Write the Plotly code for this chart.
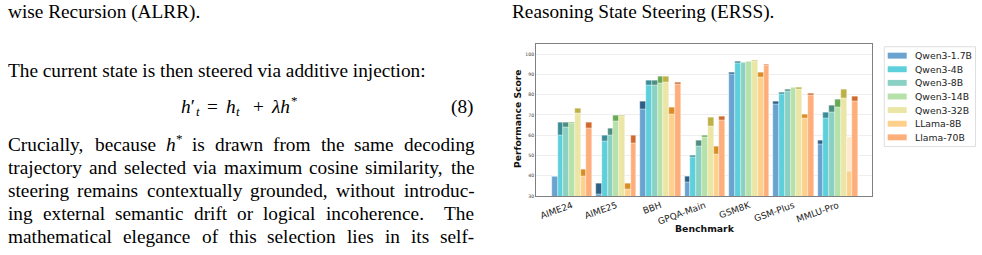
import numpy as np
import plotly.graph_objects as go

# ---------------- data ----------------
benchmarks = ["AIME24", "AIME25", "BBH", "GPQA-Main", "GSM8K", "GSM-Plus", "MMLU-Pro"]
models = ["Qwen3-1.7B", "Qwen3-4B", "Qwen3-8B", "Qwen3-14B", "Qwen3-32B", "LLama-8B", "Llama-70B"]

baseline = {
    "Qwen3-1.7B": [40.0, 31.0, 73.0, 37.0, 90.2, 75.5, 55.8],
    "Qwen3-4B":   [60.0, 56.8, 84.9, 49.2, 95.6, 80.2, 68.2],
    "Qwen3-8B":   [63.8, 60.0, 84.7, 54.8, 96.1, 81.5, 71.4],
    "Qwen3-14B":  [65.7, 66.9, 85.7, 59.0, 96.4, 83.6, 73.7],
    "Qwen3-32B":  [71.0, 69.2, 86.0, 64.6, 96.6, 82.8, 78.1],
    "LLama-8B":   [40.0, 33.2, 70.6, 50.8, 88.6, 68.2, 59.2],
    "Llama-70B":  [63.3, 56.0, 85.2, 67.2, 94.5, 79.9, 76.9],
}
erss = {
    "Qwen3-1.7B": [40.0, 36.5, 76.9, 39.9, 91.2, 76.6, 57.3],
    "Qwen3-4B":   [66.5, 60.0, 87.2, 50.1, 96.3, 81.2, 71.4],
    "Qwen3-8B":   [66.5, 63.3, 87.3, 57.3, 96.1, 82.5, 75.0],
    "Qwen3-14B":  [66.5, 70.0, 89.0, 59.9, 96.4, 83.6, 77.6],
    "Qwen3-32B":  [73.4, 70.0, 89.0, 68.7, 96.9, 83.6, 82.6],
    "LLama-8B":   [43.3, 36.5, 74.0, 54.5, 90.9, 70.6, 42.2],
    "Llama-70B":  [66.5, 60.0, 86.0, 69.6, 95.1, 80.8, 79.2],
}
y_ticks = [30, 40, 50, 60, 70, 80, 90, 100]

# ---------------- styles ----------------
light = ["#6aa3cf", "#5dd0dc", "#8bd1c3", "#b6e1a8", "#ebe6a6", "#fdd08b", "#fdae7b"]
dark = ["#2f5f84", "#3a8c96", "#4e8e80", "#67a955", "#bdb145", "#d98d22", "#cf692e"]
faded = ["#cfe0ef", "#cdeff2", "#dcf0eb", "#e7f4e2", "#f8f6e2", "#fee9cd", "#fee4d2"]

W, H = 982, 255
def px(x):
    return x / W
def py(y):
    return 1 - y / H

fig = go.Figure()
bw = 0.13
xg = np.arange(len(benchmarks))
for i, m in enumerate(models):
    b = np.array(baseline[m])
    e = np.array(erss[m])
    xs = xg + (i - 3) * bw
    low = np.minimum(b, e)
    gain = np.where(e > b, e - b, 0)
    loss = np.where(b > e, b - e, 0)
    line = dict(color="rgba(255,255,255,0.7)", width=0.5)
    fig.add_trace(go.Bar(x=xs, y=low, width=bw, marker=dict(color=light[i], line=line),
                         name=m, showlegend=False))
    fig.add_trace(go.Bar(x=xs, y=gain, base=b, width=bw, marker=dict(color=dark[i], line=line),
                         showlegend=False))
    fig.add_trace(go.Bar(x=xs, y=loss, base=e, width=bw, marker=dict(color=faded[i], line=line),
                         showlegend=False))

# ---------------- axes ----------------
x0, x1, y0, y1 = 536, 872, 44.7, 198.3
fig.update_layout(
    width=W, height=H, autosize=False,
    margin=dict(l=0, r=0, t=0, b=0),
    paper_bgcolor="white", plot_bgcolor="white",
    barmode="overlay", bargap=0,
    xaxis=dict(domain=[px(x0), px(x1)], range=[-0.81, 6.77],
               tickmode="array", tickvals=list(xg), ticktext=benchmarks,
               tickangle=-20, tickfont=dict(family="DejaVu Sans", size=9, color="#222"),
               showgrid=False, zeroline=False, showline=True, mirror=True,
               linecolor="#7f7f7f", linewidth=1, ticks="", ticklen=0),
    yaxis=dict(domain=[py(y1), py(y0)], range=[30, 104.9],
               tickmode="array", tickvals=y_ticks,
               tickfont=dict(family="DejaVu Sans", size=4.6, color="#333"),
               showgrid=True, gridcolor="#eeeeee", gridwidth=0.6,
               zeroline=False, showline=True, mirror=True,
               linecolor="#7f7f7f", linewidth=1, ticks="", ticklen=0),
    font=dict(family="DejaVu Sans"),
)

ann = []
shapes = []
ann.append(dict(text="<b>Performance Score</b>", x=px(517.5), y=py(120), xref="paper", yref="paper",
                textangle=-90, showarrow=False, font=dict(family="DejaVu Sans", size=9.2, color="#111"),
                xanchor="center", yanchor="middle"))
ann.append(dict(text="<b>Benchmark</b>", x=px(705), y=py(231.7), xref="paper", yref="paper",
                showarrow=False, font=dict(family="DejaVu Sans", size=9.3, color="#111"),
                xanchor="center", yanchor="middle"))

# ---------------- legend (manual) ----------------
shapes.append(dict(type="rect", xref="paper", yref="paper", x0=px(884.3), x1=px(975.5),
                   y0=py(148.3), y1=py(47.3), line=dict(color="#d5d5d5", width=0.8),
                   fillcolor="rgba(255,255,255,0.9)", layer="above"))
row0, dy = 56.3, 13.78
for i, m in enumerate(models):
    yc = row0 + i * dy
    shapes.append(dict(type="rect", xref="paper", yref="paper", x0=px(887.7), x1=px(906.7),
                       y0=py(yc + 3), y1=py(yc - 3), line=dict(width=0),
                       fillcolor=light[i], layer="above"))
    ann.append(dict(text=m, x=px(913.5), y=py(yc), xref="paper", yref="paper", showarrow=False,
                    xanchor="left", yanchor="middle", borderpad=0,
                    font=dict(family="DejaVu Sans", size=9.3, color="#222")))

# ---------------- page text ----------------
TW = {' ': 250, 'a': 444, 'b': 500, 'c': 444, 'd': 500, 'e': 444, 'f': 333, 'g': 500, 'h': 500,
      'i': 278, 'j': 278, 'k': 500, 'l': 278, 'm': 778, 'n': 500, 'o': 500, 'p': 500, 'q': 500,
      'r': 333, 's': 389, 't': 278, 'u': 500, 'v': 500, 'w': 722, 'x': 500, 'y': 500, 'z': 444,
      'A': 722, 'C': 667, 'E': 611, 'L': 611, 'R': 667, 'S': 556, 'T': 611, ',': 250, '.': 250,
      ':': 278, '-': 333, '(': 333, ')': 333, '*': 500}
FS = 19.3
SS = 13.0  # script size
SERIF = "Liberation Serif"

def wwidth(word):
    if word == "h*":
        return FS * 0.85
    return FS * sum(TW.get(c, 500) for c in word) / 1000.0

def text_ann(t, x, y, anchor="left", size=FS):
    return dict(text=t, x=px(x), y=py(y), xref="paper", yref="paper", showarrow=False,
                xanchor=anchor, yanchor="middle", borderpad=0,
                font=dict(family=SERIF, size=size, color="#000"))

ann.append(text_ann("wise Recursion (ALRR).", 7, 12))
ann.append(text_ann("Reasoning State Steering (ERSS).", 511, 12))
ann.append(text_ann("The current state is then steered via additive injection:", 7, 71))

# equation (8): h'_t = h_t + λh*  (pieces laid out by hand)
ey = 108
ann.append(text_ann("<i>h</i>′", 180, ey))
ann.append(text_ann("<i>t</i>", 194.5, ey + 5, size=SS))
ann.append(text_ann("=", 205.5, ey))
ann.append(text_ann("<i>h</i>", 225, ey))
ann.append(text_ann("<i>t</i>", 234.5, ey + 5, size=SS))
ann.append(text_ann("+", 251.5, ey))
ann.append(text_ann("<i>λh</i>", 270, ey))
ann.append(text_ann("*", 289.5, ey - 6, size=SS))
ann.append(text_ann("(8)", 473.5, ey, anchor="right"))

para = [
    "Crucially, because h* is drawn from the same decoding",
    "trajectory and selected via maximum cosine similarity, the",
    "steering remains contextually grounded, without introduc-",
    "ing external semantic drift or logical incoherence.  The",
    "mathematical elegance of this selection lies in its self-",
]
line_y = [146, 169.3, 193, 216.3, 239.5]
left, right = 7, 473.5
for line_txt, yl in zip(para, line_y):
    parts = line_txt.split(" ")
    words, weights = [], []
    for p in parts:
        if p == "":
            weights[-1] += 1.0
            continue
        words.append(p)
        weights.append(1.0)
    weights = weights[:-1]
    widths = [wwidth(w) for w in words]
    extra = (right - left) - sum(widths)
    unit = extra / sum(weights)
    xpos = left
    for k, w in enumerate(words):
        if w == "h*":
            ann.append(text_ann("<i>h</i>", xpos, yl))
            ann.append(text_ann("*", xpos + 10.5, yl - 6, size=SS))
        else:
            ann.append(text_ann(w, xpos, yl))
        if k < len(weights):
            xpos += widths[k] + unit * weights[k]

fig.update_layout(annotations=ann, shapes=shapes)
fig.write_html("out.html")
